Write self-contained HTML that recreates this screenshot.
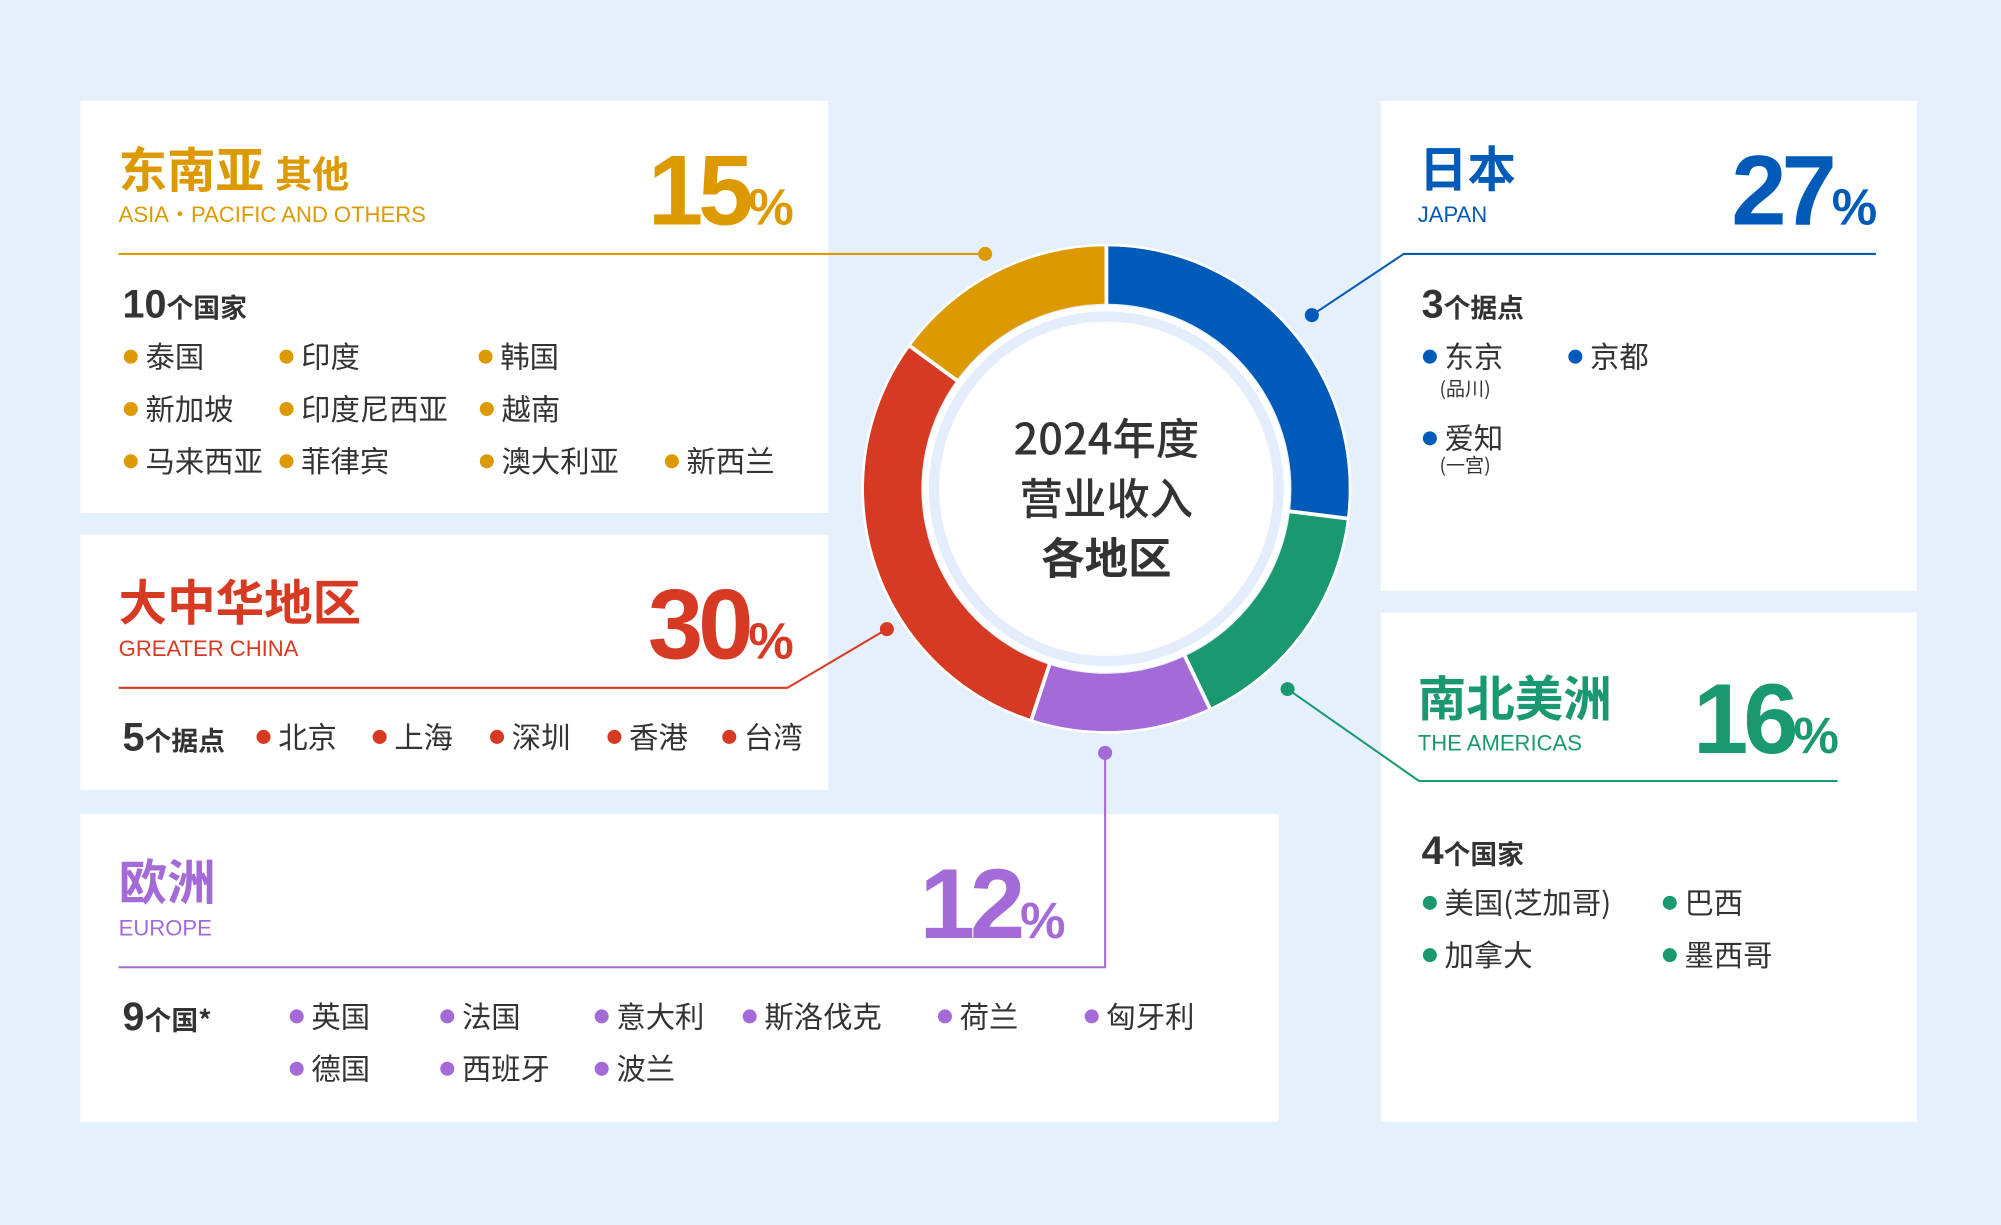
<!DOCTYPE html>
<html><head><meta charset="utf-8"><style>
html,body{margin:0;padding:0;width:2001px;height:1225px;overflow:hidden;background:#e6effc}
#s{position:absolute;left:0;top:0;width:1568px;height:960px;transform:scale(1.2761);transform-origin:0 0;font-family:"Liberation Sans","Noto Sans CJK SC",sans-serif;color:#333}
.p{position:absolute;background:#fff}
.t{position:absolute;white-space:nowrap;line-height:1}
.h{font-weight:bold;font-size:38px}
.sub{font-size:17.3px}
.n{font-weight:bold;font-size:78px;letter-spacing:-4px;text-align:right}
.n span{font-size:40px;letter-spacing:0}
.c{font-size:21px;font-family:"Noto Sans CJK SC",sans-serif;font-weight:bold}
.c b{font-family:"Liberation Sans",sans-serif;font-size:31px}
.i{font-size:23px;font-family:"Noto Sans CJK SC",sans-serif}
.i::before{content:"";display:inline-block;width:11px;height:11px;border-radius:50%;background:var(--k);margin-right:6px;vertical-align:3px}
.sm{font-size:15px;font-family:"Noto Sans CJK SC",sans-serif}
</style></head><body><div id="s">
<div class="p" style="left:63px;top:79px;width:586px;height:323px"></div>
<div class="p" style="left:63px;top:419px;width:586px;height:200px"></div>
<div class="p" style="left:63px;top:638px;width:939px;height:241px"></div>
<div class="p" style="left:1082px;top:79px;width:420px;height:384px"></div>
<div class="p" style="left:1082px;top:480px;width:420px;height:399px"></div>

<svg width="1568" height="960" style="position:absolute;left:0;top:0">
<g transform="translate(867,383)">
<path d="M0,-190 A190,190 0 0,1 188.5,23.3 L143.9,17.8 A145,145 0 0,0 0,-145Z" fill="#005bb8"/>
<path d="M188.5,23.3 A190,190 0 0,1 81.0,171.9 L61.8,131.2 A145,145 0 0,0 143.9,17.8Z" fill="#1a9970"/>
<path d="M81.0,171.9 A190,190 0 0,1 -58.7,180.7 L-44.8,137.9 A145,145 0 0,0 61.8,131.2Z" fill="#a46ad8"/>
<path d="M-58.7,180.7 A190,190 0 0,1 -153.7,-111.7 L-117.3,-85.2 A145,145 0 0,0 -44.8,137.9Z" fill="#d63a22"/>
<path d="M-153.7,-111.7 A190,190 0 0,1 0,-190 L0,-145 A145,145 0 0,0 -117.3,-85.2Z" fill="#dd9a00"/>
<g stroke="#fff" stroke-width="3"><line x1="0" y1="-192" x2="0" y2="-143"/><line x1="190.5" y1="23.5" x2="142" y2="17.5"/><line x1="82" y1="174" x2="61" y2="130"/><line x1="-59.3" y1="182.6" x2="-44" y2="136"/><line x1="-155.3" y1="-112.8" x2="-116" y2="-84"/></g>
<circle r="191" fill="none" stroke="#fff" stroke-width="2"/>
<circle r="144" fill="#fff"/>
<circle r="139" fill="#e3edfb"/>
<circle r="131" fill="#fff"/>
</g>
<g fill="none" stroke-width="1.6">
<polyline points="93,199 772,199" stroke="#dd9a00"/>
<polyline points="93,539 617,539 695,493" stroke="#d63a22"/>
<polyline points="93,758 866,758 866,590" stroke="#a46ad8"/>
<polyline points="1470,199 1100,199 1028,247" stroke="#005bb8"/>
<polyline points="1440,612 1112,612 1009,540" stroke="#1a9970"/>
</g>
<circle cx="772" cy="199" r="5.5" fill="#dd9a00"/>
<circle cx="695" cy="493" r="5.5" fill="#d63a22"/>
<circle cx="866" cy="590" r="5.5" fill="#a46ad8"/>
<circle cx="1028" cy="247" r="5.5" fill="#005bb8"/>
<circle cx="1009" cy="540" r="5.5" fill="#1a9970"/>
</svg>

<div class="t" style="left:767px;top:318px;width:200px;text-align:center;font-family:'Noto Sans CJK SC',sans-serif;font-weight:500;font-size:34px;line-height:47px;color:#333">2024年度<br>营业收入<br><b>各地区</b></div>

<!-- Asia -->
<div class="t h" style="left:93px;top:112px;color:#dd9a00;font-family:'Noto Sans CJK SC',sans-serif">东南亚 <span style="font-size:29px">其他</span></div>
<div class="t sub" style="left:93px;top:160px;color:#dd9a00">ASIA・PACIFIC AND OTHERS</div>
<div class="t n" style="right:946px;top:110px;color:#dd9a00">15<span>%</span></div>
<div class="t c" style="left:96px;top:223px"><b>10</b>个国家</div>
<div style="--k:#dd9a00">
<div class="t i" style="left:97px;top:267px">泰国</div><div class="t i" style="left:219px;top:267px">印度</div><div class="t i" style="left:375px;top:267px">韩国</div>
<div class="t i" style="left:97px;top:308px">新加坡</div><div class="t i" style="left:219px;top:308px">印度尼西亚</div><div class="t i" style="left:376px;top:308px">越南</div>
<div class="t i" style="left:97px;top:349px">马来西亚</div><div class="t i" style="left:219px;top:349px">菲律宾</div><div class="t i" style="left:376px;top:349px">澳大利亚</div><div class="t i" style="left:521px;top:349px">新西兰</div>
</div>

<!-- China -->
<div class="t h" style="left:93px;top:451px;color:#d63a22;font-family:'Noto Sans CJK SC',sans-serif">大中华地区</div>
<div class="t sub" style="left:93px;top:500px;color:#d63a22">GREATER CHINA</div>
<div class="t n" style="right:946px;top:450px;color:#d63a22">30<span>%</span></div>
<div class="t c" style="left:96px;top:562px"><b>5</b>个据点</div>
<div style="--k:#d63a22">
<div class="t i" style="left:201px;top:565px">北京</div><div class="t i" style="left:292px;top:565px">上海</div><div class="t i" style="left:384px;top:565px">深圳</div><div class="t i" style="left:476px;top:565px">香港</div><div class="t i" style="left:566px;top:565px">台湾</div>
</div>

<!-- Europe -->
<div class="t h" style="left:93px;top:670px;color:#a46ad8;font-family:'Noto Sans CJK SC',sans-serif">欧洲</div>
<div class="t sub" style="left:93px;top:719px;color:#a46ad8">EUROPE</div>
<div class="t n" style="right:733px;top:669px;color:#a46ad8">12<span>%</span></div>
<div class="t c" style="left:96px;top:781px"><b>9</b>个国*</div>
<div style="--k:#a46ad8">
<div class="t i" style="left:227px;top:784px">英国</div><div class="t i" style="left:345px;top:784px">法国</div><div class="t i" style="left:466px;top:784px">意大利</div><div class="t i" style="left:582px;top:784px">斯洛伐克</div><div class="t i" style="left:735px;top:784px">荷兰</div><div class="t i" style="left:850px;top:784px">匈牙利</div>
<div class="t i" style="left:227px;top:825px">德国</div><div class="t i" style="left:345px;top:825px">西班牙</div><div class="t i" style="left:466px;top:825px">波兰</div>
</div>

<!-- Japan -->
<div class="t h" style="left:1112px;top:111px;color:#005bb8;font-family:'Noto Sans CJK SC',sans-serif">日本</div>
<div class="t sub" style="left:1111px;top:160px;color:#005bb8">JAPAN</div>
<div class="t n" style="right:97px;top:110px;color:#005bb8">27<span>%</span></div>
<div class="t c" style="left:1114px;top:223px"><b>3</b>个据点</div>
<div style="--k:#005bb8">
<div class="t i" style="left:1115px;top:267px">东京</div><div class="t i" style="left:1229px;top:267px">京都</div>
<div class="t i" style="left:1115px;top:331px">爱知</div>
</div>
<div class="t sm" style="left:1128px;top:297px">(品川)</div>
<div class="t sm" style="left:1128px;top:357px">(一宫)</div>

<!-- Americas -->
<div class="t h" style="left:1111px;top:526px;color:#1a9970;font-family:'Noto Sans CJK SC',sans-serif">南北美洲</div>
<div class="t sub" style="left:1111px;top:574px;color:#1a9970">THE AMERICAS</div>
<div class="t n" style="right:127px;top:524px;color:#1a9970">16<span>%</span></div>
<div class="t c" style="left:1114px;top:651px"><b>4</b>个国家</div>
<div style="--k:#1a9970">
<div class="t i" style="left:1115px;top:695px">美国(芝加哥)</div><div class="t i" style="left:1303px;top:695px">巴西</div>
<div class="t i" style="left:1115px;top:736px">加拿大</div><div class="t i" style="left:1303px;top:736px">墨西哥</div>
</div>
</div></body></html>
